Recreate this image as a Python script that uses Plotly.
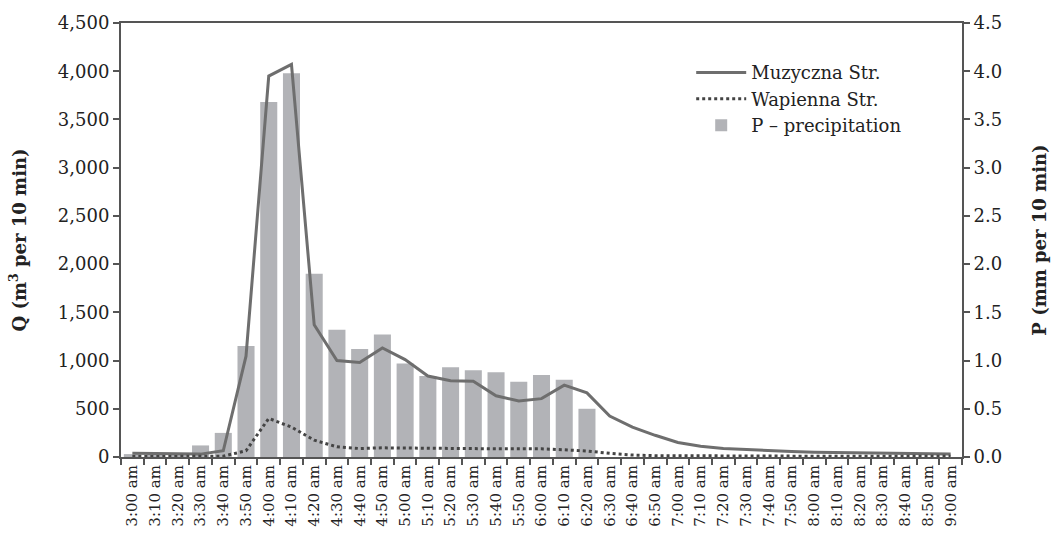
import plotly.graph_objects as go

# 10-minute time steps
times = [
    "3:00 am", "3:10 am", "3:20 am", "3:30 am", "3:40 am", "3:50 am",
    "4:00 am", "4:10 am", "4:20 am", "4:30 am", "4:40 am", "4:50 am",
    "5:00 am", "5:10 am", "5:20 am", "5:30 am", "5:40 am", "5:50 am",
    "6:00 am", "6:10 am", "6:20 am", "6:30 am", "6:40 am", "6:50 am",
    "7:00 am", "7:10 am", "7:20 am", "7:30 am", "7:40 am", "7:50 am",
    "8:00 am", "8:10 am", "8:20 am", "8:30 am", "8:40 am", "8:50 am",
    "9:00 am",
]

# Discharge Q (m3 per 10 min)
q_muzyczna = [
    40, 35, 28, 30, 65, 1045,
    3950, 4070, 1370, 1000, 980, 1130,
    1010, 840, 790, 785, 635, 580,
    605, 745, 665, 425, 310, 225,
    150, 112, 88, 76, 65, 56,
    48, 45, 42, 38, 35, 32,
    30,
]
q_wapienna = [
    5, 5, 5, 5, 8, 65,
    400, 310, 175, 105, 88, 95,
    92, 88, 85, 85, 85, 85,
    85, 75, 62, 38, 20, 14,
    12, 10, 10, 10, 9, 9,
    9, 9, 8, 8, 8, 8,
    8,
]

# Precipitation P (mm per 10 min)
precip = [
    0.03, 0.03, 0.02, 0.12, 0.25, 1.15,
    3.68, 3.98, 1.90, 1.32, 1.12, 1.27,
    0.97, 0.84, 0.93, 0.90, 0.88, 0.78,
    0.85, 0.80, 0.50, 0, 0, 0,
    0, 0, 0, 0, 0, 0,
    0, 0, 0, 0, 0, 0,
    0,
]

FONT = "DejaVu Serif"
INK = "#222222"
AXIS = "#555555"

fig = go.Figure()

# precipitation bars on the primary (right-hand) axis so the lines sit above them
fig.add_trace(go.Bar(
    x=times, y=precip, name="P \u2013 precipitation",
    marker=dict(color="#b2b3b7", line=dict(width=0)),
    yaxis="y", legendrank=3,
))
fig.add_trace(go.Scatter(
    x=times, y=q_muzyczna, name="Muzyczna Str.", mode="lines",
    line=dict(color="#6e6e6e", width=3),
    yaxis="y2", legendrank=1,
))
fig.add_trace(go.Scatter(
    x=times, y=q_wapienna, name="Wapienna Str.", mode="lines",
    line=dict(color="#444444", width=3, dash="dot"),
    yaxis="y2", legendrank=2,
))

fig.update_layout(
    width=1060, height=545,
    margin=dict(l=121, r=98, t=17, b=88),
    paper_bgcolor="white", plot_bgcolor="white",
    font=dict(family=FONT, size=18, color=INK),
    bargap=0.25,
    showlegend=True,
    legend=dict(
        x=0.678, y=0.928, xanchor="left", yanchor="top",
        bgcolor="rgba(0,0,0,0)", font=dict(size=18, color=INK),
        itemwidth=50, tracegroupgap=0,
    ),
    xaxis=dict(
        type="category",
        showline=True, linecolor=AXIS, linewidth=2, mirror=True,
        ticks="outside", tickson="boundaries", ticklen=6,
        tickcolor=AXIS, tickwidth=1.5,
        tickangle=-90, tickfont=dict(size=15, color=INK),
        showgrid=False, zeroline=False,
    ),
    yaxis=dict(
        side="right", range=[0, 4.5], dtick=0.5, tickformat=".1f",
        showline=True, linecolor=AXIS, linewidth=2,
        ticks="outside", ticklen=6, tickcolor=AXIS, tickwidth=1.5,
        tickfont=dict(size=18, color=INK),
        showgrid=False, zeroline=False,
        title=dict(text="<b>P (mm per 10 min)</b>",
                   font=dict(size=18, color=INK), standoff=32),
    ),
    yaxis2=dict(
        side="left", overlaying="y", range=[0, 4500], dtick=500,
        tickformat=",d",
        showline=True, linecolor=AXIS, linewidth=2,
        ticks="outside", ticklen=6, tickcolor=AXIS, tickwidth=1.5,
        tickfont=dict(size=18, color=INK),
        showgrid=False, zeroline=False,
        title=dict(text="<b>Q (m<sup>3</sup> per 10 min)</b>",
                   font=dict(size=18, color=INK), standoff=27),
    ),
)

fig.write_html("out.html")
